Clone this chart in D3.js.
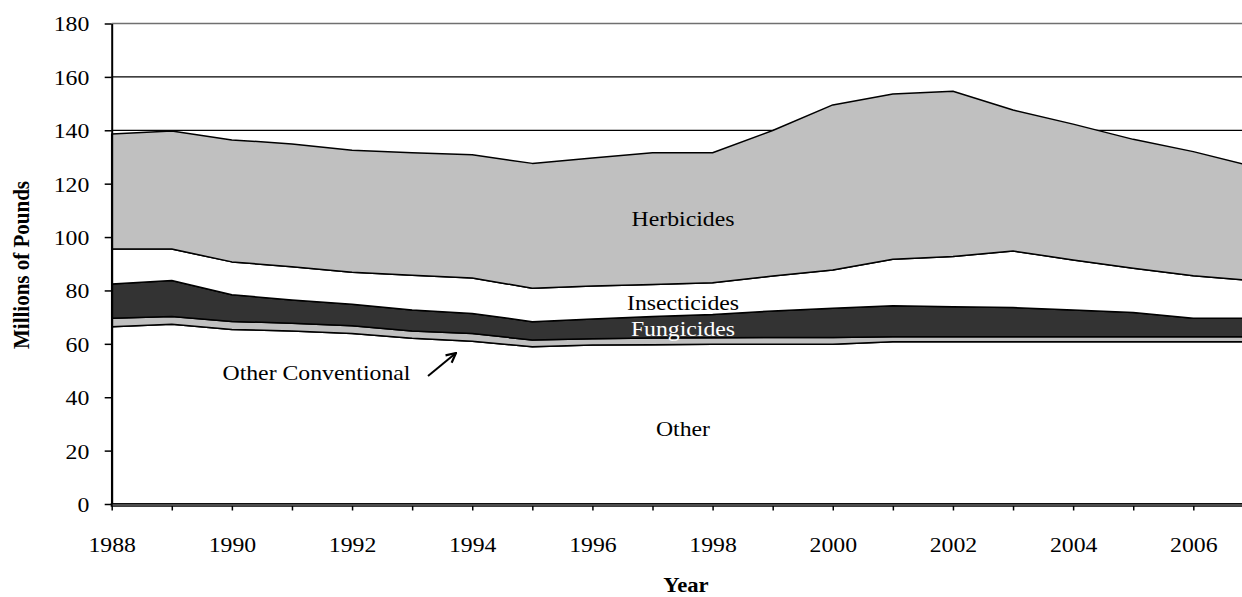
<!DOCTYPE html>
<html>
<head>
<meta charset="utf-8">
<script src="https://cdn.jsdelivr.net/npm/d3@7"></script>
<style>
  html, body { margin: 0; padding: 0; background: #fff; }
  svg { display: block; }
  text { font-family: "Liberation Serif", "Times New Roman", serif; fill: #000; }
</style>
</head>
<body>
<div class="chart"></div>
<script>
(function() {
  // years on the x axis
  const years = [1988, 1989, 1990, 1991, 1992, 1993, 1994, 1995, 1996, 1997,
                 1998, 1999, 2000, 2001, 2002, 2003, 2004, 2005, 2006, 2007];
  const yearLabels = [1988, 1990, 1992, 1994, 1996, 1998, 2000, 2002, 2004, 2006];
  const valueTicks = [0, 20, 40, 60, 80, 100, 120, 140, 160, 180];

  // millions of pounds, per series (stacked bottom to top)
  const other = [66.4, 67.3, 65.4, 64.8, 63.9, 62.1, 61.0, 58.9, 59.6, 59.7,
                 59.8, 59.8, 59.8, 60.8, 60.8, 60.8, 60.8, 60.8, 60.8, 60.8];
  const otherConventional = [3.2, 2.9, 3.0, 2.9, 2.9, 2.7, 2.9, 2.5, 2.3, 2.5,
                             2.5, 2.6, 2.6, 1.9, 1.9, 1.9, 1.9, 1.9, 1.9, 1.9];
  const fungicides = [12.8, 13.5, 10.0, 8.7, 8.0, 7.9, 7.5, 6.9, 7.4, 8.0,
                      8.7, 9.9, 10.9, 11.6, 11.2, 10.9, 10.0, 9.0, 6.9, 6.9];
  const insecticides = [13.1, 11.8, 12.3, 12.5, 12.0, 13.0, 13.3, 12.5, 12.4, 12.0,
                        11.9, 13.1, 14.4, 17.4, 18.8, 21.2, 18.7, 16.6, 15.9, 14.1];
  const herbicides = [43.1, 44.2, 45.7, 46.0, 45.7, 45.9, 46.1, 46.8, 47.9, 49.4,
                      48.7, 54.5, 61.8, 61.9, 61.9, 52.8, 50.9, 48.3, 46.5, 42.7];

  const keys = ['other', 'otherConventional', 'fungicides', 'insecticides', 'herbicides'];
  const fills = { other: '#ffffff', otherConventional: '#c0c0c0', fungicides: '#333333',
                  insecticides: '#ffffff', herbicides: '#c0c0c0' };

  const table = years.map((year, i) => ({
    year,
    other: other[i],
    otherConventional: otherConventional[i],
    fungicides: fungicides[i],
    insecticides: insecticides[i],
    herbicides: herbicides[i]
  }));

  const WIDTH = 1242;
  const HEIGHT = 597;
  const STRETCH = 1.08; // the source type is a bit wide
  const FONT = 22;

  const x = d3.scaleLinear().domain([1988, 2007]).range([111.7, 1253.4]);
  const y = d3.scaleLinear().domain([0, 180]).range([504, 23.5]);

  const svg = d3.select('.chart')
    .append('svg')
    .attr('width', WIDTH)
    .attr('height', HEIGHT);

  // gridlines (behind the areas)
  svg.append('g')
    .selectAll('line')
    .data(valueTicks.filter(d => d > 0))
    .enter()
    .append('line')
    .attr('x1', x(1988))
    .attr('x2', x(2007))
    .attr('y1', d => y(d))
    .attr('y2', d => y(d))
    .attr('stroke', d => (d === 180 ? '#707070' : '#000'))
    .attr('stroke-width', 1.3);

  const series = d3.stack().keys(keys)(table);

  const area = d3.area()
    .x(d => x(d.data.year))
    .y0(d => y(d[0]))
    .y1(d => y(d[1]));

  svg.append('g')
    .selectAll('path')
    .data(series)
    .enter()
    .append('path')
    .attr('d', area)
    .attr('fill', d => fills[d.key])
    .attr('stroke', '#000')
    .attr('stroke-width', 1.5)
    .attr('stroke-linejoin', 'round');

  // y axis
  const yAxis = svg.append('g')
    .attr('transform', `translate(${x(1988)},0)`)
    .call(d3.axisLeft(y).tickValues(valueTicks).tickSize(7).tickSizeOuter(0));
  yAxis.select('.domain').attr('stroke-width', 2);
  yAxis.selectAll('.tick line').attr('stroke-width', 1.5);
  yAxis.selectAll('.tick text')
    .attr('font-size', FONT)
    .attr('font-family', '"Liberation Serif", serif')
    .attr('x', -22.4 / STRETCH)
    .attr('dy', '0.34em')
    .attr('transform', `scale(${STRETCH},1)`);

  // x axis
  const xAxis = svg.append('g')
    .attr('transform', `translate(0,${y(0)})`)
    .call(d3.axisBottom(x).tickValues(years.slice(0, 19)).tickSize(6.5).tickSizeOuter(0)
      .tickFormat(d => (yearLabels.includes(d) ? d : '')));
  xAxis.select('.domain').remove();
  xAxis.selectAll('.tick line').attr('stroke-width', 1.5);
  xAxis.selectAll('.tick text')
    .attr('font-size', FONT)
    .attr('font-family', '"Liberation Serif", serif')
    .attr('y', 48)
    .attr('dy', 0)
    .attr('transform', `scale(${STRETCH},1)`);

  // thick base line
  svg.append('line')
    .attr('x1', x(1988) - 1).attr('x2', x(2007))
    .attr('y1', y(0) + 1).attr('y2', y(0) + 1)
    .attr('stroke', '#000').attr('stroke-width', 3.6);
  svg.append('line')
    .attr('x1', x(1988) + 1).attr('x2', x(2007))
    .attr('y1', y(0) + 1).attr('y2', y(0) + 1)
    .attr('stroke', '#9a9a9a').attr('stroke-width', 1);

  const label = (txt, cx, baseline, opts = {}) => {
    const t = svg.append('text')
      .attr('transform', `translate(${cx},${baseline}) scale(${STRETCH},1)`)
      .attr('text-anchor', opts.anchor || 'middle')
      .attr('font-size', opts.size || FONT)
      .attr('font-weight', opts.weight || 'normal')
      .style('fill', opts.fill || '#000')
      .text(txt);
    return t;
  };

  label('Herbicides', 683, 226);
  label('Insecticides', 683, 310);
  label('Fungicides', 683, 336, { fill: '#fff' });
  label('Other', 683, 436);
  label('Other Conventional', 222.5, 380, { anchor: 'start' });

  // arrow pointing at the thin band
  const defs = svg.append('defs');
  defs.append('marker')
    .attr('id', 'arrow')
    .attr('viewBox', '0 0 10 10')
    .attr('refX', 9)
    .attr('refY', 5)
    .attr('markerWidth', 12)
    .attr('markerHeight', 12)
    .attr('markerUnits', 'userSpaceOnUse')
    .attr('orient', 'auto')
    .append('path')
    .attr('d', 'M1,1L9,5L1,9')
    .attr('fill', 'none')
    .attr('stroke', '#000')
    .attr('stroke-width', 1.8);

  svg.append('line')
    .attr('x1', 428).attr('y1', 376)
    .attr('x2', 456).attr('y2', 353)
    .attr('stroke', '#000')
    .attr('stroke-width', 2)
    .attr('marker-end', 'url(#arrow)');

  // axis titles
  svg.append('text')
    .attr('transform', `translate(29,265) rotate(-90) scale(1,${STRETCH})`)
    .attr('text-anchor', 'middle')
    .attr('font-size', 21)
    .attr('font-weight', 'bold')
    .text('Millions of Pounds');

  label('Year', 686, 592, { weight: 'bold', size: 21 });
})();
</script>
</body>
</html>
